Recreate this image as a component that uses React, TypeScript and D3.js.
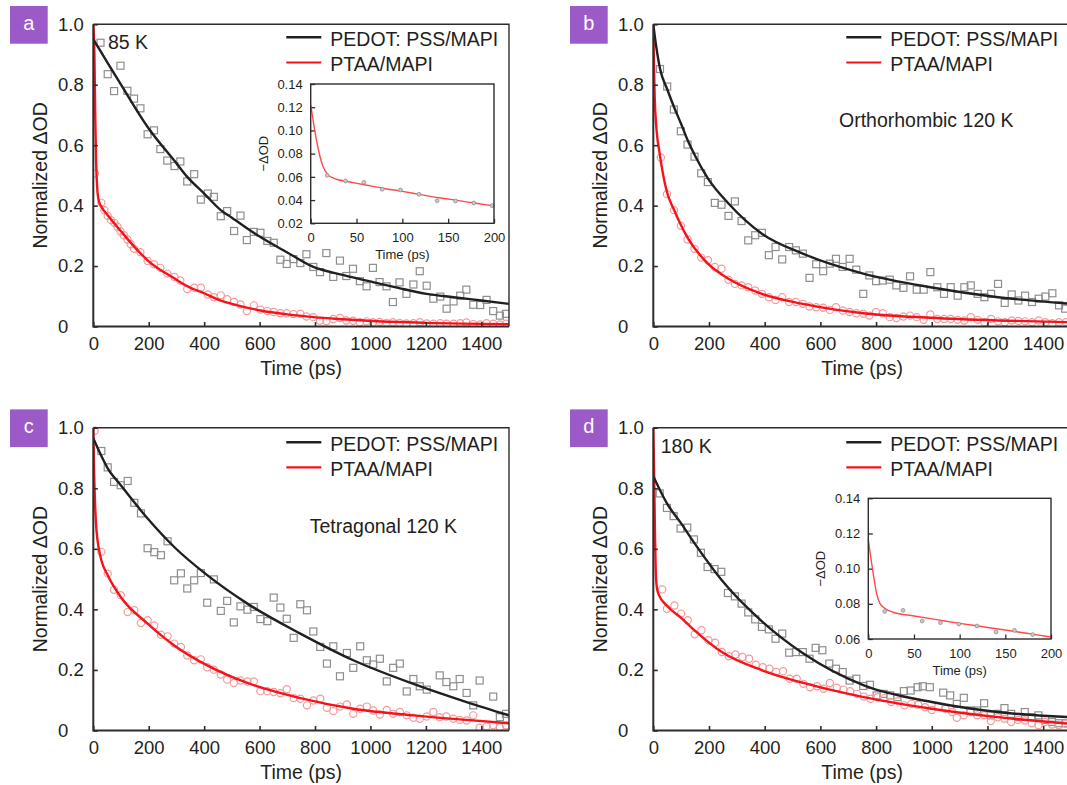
import { useEffect, useRef } from "react";
import * as d3 from "d3";

// ---- data: [time (ps), normalized ΔOD] ----
const xTicks = [0, 200, 400, 600, 800, 1000, 1200, 1400];
const yTicks = [0, 0.2, 0.4, 0.6, 0.8, 1.0];
const insetXTicks = [0, 50, 100, 150, 200];
const insetAYTicks = [0.02, 0.04, 0.06, 0.08, 0.1, 0.12, 0.14];
const insetDYTicks = [0.06, 0.08, 0.1, 0.12, 0.14];

const aPedot = [[26,0.939],[52,0.835],[75,0.779],[98,0.863],[123,0.780],[147,0.754],[170,0.722],[196,0.636],[219,0.649],[242,0.587],[267,0.549],[293,0.531],[314,0.546],[339,0.480],[364,0.504],[388,0.420],[413,0.440],[435,0.429],[460,0.365],[483,0.382],[508,0.316],[531,0.367],[554,0.286],[579,0.313],[603,0.310],[628,0.283],[651,0.277],[675,0.221],[698,0.207],[722,0.223],[747,0.210],[769,0.239],[794,0.197],[818,0.180],[841,0.243],[866,0.164],[890,0.218],[913,0.167],[937,0.191],[962,0.150],[986,0.133],[1009,0.194],[1033,0.147],[1058,0.133],[1081,0.081],[1105,0.146],[1130,0.108],[1155,0.139],[1178,0.183],[1203,0.135],[1227,0.092],[1252,0.099],[1275,0.059],[1300,0.083],[1324,0.102],[1346,0.122],[1371,0.072],[1396,0.071],[1419,0.088],[1443,0.051],[1467,0.036],[1489,0.042]];
const aPtaa = [[6,0.506],[29,0.41],[40,0.385],[52,0.366],[64,0.352],[76,0.343],[87,0.33],[98,0.315],[110,0.302],[123,0.288],[135,0.272],[147,0.257],[170,0.246],[196,0.217],[219,0.206],[242,0.194],[267,0.175],[293,0.164],[314,0.152],[339,0.124],[364,0.128],[388,0.128],[413,0.106],[435,0.097],[460,0.103],[483,0.090],[508,0.081],[531,0.073],[554,0.051],[579,0.070],[603,0.056],[628,0.051],[651,0.048],[675,0.044],[698,0.044],[722,0.041],[747,0.042],[769,0.033],[794,0.031],[818,0.019],[841,0.017],[866,0.025],[890,0.028],[913,0.020],[937,0.019],[962,0.014],[986,0.017],[1009,0.014],[1033,0.015],[1058,0.012],[1081,0.014],[1105,0.012],[1130,0.010],[1155,0.011],[1178,0.014],[1203,0.010],[1227,0.009],[1252,0.011],[1275,0.009],[1300,0.009],[1324,0.011],[1346,0.013],[1371,0.008],[1396,0.007],[1419,0.011],[1443,0.009],[1467,0.007],[1489,0.009]];
const aPedotFit = [[0,0.95],[50,0.875],[100,0.80],[196,0.66],[300,0.54],[339,0.495],[400,0.44],[460,0.385],[500,0.36],[603,0.296],[700,0.245],[794,0.197],[900,0.171],[1009,0.147],[1100,0.128],[1203,0.108],[1300,0.097],[1400,0.086],[1500,0.075]];
const aPtaaFit = [[0,1.0],[4,0.9],[7,0.7],[10,0.55],[14,0.46],[20,0.415],[30,0.395],[52,0.368],[100,0.315],[150,0.262],[196,0.219],[300,0.155],[339,0.133],[400,0.11],[460,0.086],[500,0.075],[603,0.053],[700,0.04],[794,0.031],[900,0.024],[1009,0.018],[1200,0.012],[1500,0.008]];

const bPedot = [[24,0.852],[50,0.794],[74,0.718],[99,0.646],[123,0.602],[148,0.562],[172,0.507],[196,0.478],[221,0.409],[245,0.403],[270,0.366],[293,0.414],[317,0.349],[341,0.285],[366,0.302],[390,0.310],[415,0.236],[439,0.263],[463,0.222],[488,0.263],[512,0.252],[537,0.241],[561,0.161],[585,0.206],[610,0.183],[634,0.208],[656,0.224],[680,0.197],[705,0.224],[729,0.188],[754,0.108],[776,0.169],[800,0.150],[824,0.152],[849,0.155],[873,0.136],[898,0.128],[922,0.166],[946,0.122],[971,0.122],[995,0.180],[1020,0.130],[1044,0.108],[1068,0.130],[1093,0.102],[1117,0.130],[1140,0.136],[1165,0.108],[1189,0.097],[1213,0.108],[1238,0.141],[1262,0.078],[1287,0.106],[1311,0.086],[1335,0.102],[1360,0.081],[1384,0.092],[1408,0.099],[1433,0.110],[1457,0.070],[1479,0.059],[1500,0.081]];
const bPtaa = [[27,0.559],[49,0.438],[74,0.385],[99,0.333],[123,0.288],[148,0.257],[172,0.228],[196,0.219],[221,0.197],[245,0.191],[270,0.155],[293,0.141],[317,0.136],[341,0.130],[366,0.119],[390,0.108],[415,0.097],[439,0.088],[463,0.097],[488,0.081],[512,0.081],[537,0.075],[561,0.066],[585,0.064],[610,0.062],[634,0.055],[656,0.064],[680,0.053],[705,0.048],[729,0.044],[754,0.042],[776,0.036],[800,0.048],[824,0.044],[849,0.031],[873,0.028],[898,0.033],[922,0.036],[946,0.031],[971,0.022],[995,0.040],[1020,0.025],[1044,0.025],[1068,0.025],[1093,0.022],[1117,0.020],[1140,0.031],[1165,0.022],[1189,0.014],[1213,0.025],[1238,0.017],[1262,0.014],[1287,0.020],[1311,0.018],[1335,0.017],[1360,0.014],[1384,0.020],[1408,0.014],[1433,0.011],[1457,0.014],[1482,0.014]];
const bPedotFit = [[0,1.0],[10,0.93],[24,0.854],[50,0.785],[74,0.727],[100,0.67],[123,0.617],[150,0.565],[196,0.49],[270,0.407],[390,0.307],[537,0.241],[754,0.175],[995,0.13],[1238,0.097],[1500,0.075]];
const bPtaaFit = [[0,1.0],[2,0.88],[5,0.76],[10,0.67],[15,0.62],[20,0.59],[30,0.53],[49,0.445],[74,0.387],[123,0.294],[196,0.208],[270,0.158],[390,0.108],[537,0.075],[754,0.044],[995,0.029],[1238,0.02],[1500,0.014]];

const cPedot = [[29,0.923],[52,0.869],[75,0.821],[99,0.810],[124,0.824],[148,0.752],[172,0.717],[196,0.602],[220,0.589],[244,0.579],[268,0.625],[292,0.496],[316,0.519],[339,0.469],[364,0.496],[388,0.520],[411,0.422],[435,0.499],[460,0.395],[483,0.428],[507,0.357],[531,0.410],[556,0.399],[579,0.408],[603,0.368],[628,0.361],[651,0.439],[675,0.406],[698,0.369],[723,0.306],[747,0.417],[771,0.397],[794,0.327],[819,0.276],[843,0.221],[866,0.278],[890,0.179],[915,0.256],[938,0.207],[963,0.278],[987,0.232],[1010,0.218],[1034,0.237],[1059,0.162],[1082,0.207],[1106,0.221],[1131,0.129],[1155,0.170],[1178,0.146],[1203,0.135],[1250,0.182],[1274,0.160],[1299,0.146],[1322,0.170],[1347,0.124],[1371,0.083],[1394,0.165],[1443,0.112],[1467,0.044],[1489,0.055]];
const cPtaa = [[5,0.99],[29,0.590],[52,0.518],[75,0.465],[99,0.447],[124,0.391],[148,0.397],[172,0.355],[196,0.364],[220,0.347],[244,0.316],[268,0.311],[292,0.287],[316,0.276],[339,0.248],[364,0.232],[388,0.235],[411,0.209],[435,0.201],[460,0.185],[483,0.168],[507,0.157],[531,0.165],[556,0.162],[579,0.162],[603,0.130],[628,0.130],[651,0.127],[675,0.123],[698,0.136],[723,0.107],[747,0.105],[771,0.083],[794,0.099],[819,0.105],[843,0.075],[866,0.064],[890,0.079],[915,0.086],[938,0.055],[963,0.072],[987,0.079],[1010,0.066],[1034,0.053],[1059,0.068],[1082,0.055],[1106,0.061],[1131,0.050],[1155,0.042],[1178,0.039],[1203,0.046],[1227,0.061],[1250,0.044],[1274,0.046],[1299,0.039],[1322,0.035],[1347,0.033],[1371,0.050],[1394,0.009],[1419,0.013],[1443,0.017],[1467,0.011],[1489,0.017]];
const cPedotFit = [[0,0.965],[52,0.866],[99,0.81],[196,0.70],[292,0.606],[411,0.513],[556,0.419],[747,0.32],[938,0.232],[1155,0.154],[1347,0.094],[1500,0.05]];
const cPtaaFit = [[0,1.0],[3,0.85],[6,0.76],[10,0.68],[15,0.63],[20,0.60],[29,0.562],[52,0.513],[99,0.441],[196,0.353],[292,0.281],[411,0.215],[556,0.157],[747,0.107],[938,0.072],[1155,0.05],[1347,0.035],[1500,0.024]];

const dPedot = [[23,0.783],[49,0.735],[73,0.708],[98,0.667],[122,0.670],[146,0.631],[171,0.587],[195,0.540],[220,0.533],[244,0.524],[268,0.454],[293,0.443],[317,0.419],[341,0.390],[366,0.367],[390,0.342],[415,0.334],[439,0.303],[463,0.320],[488,0.257],[512,0.259],[537,0.259],[561,0.237],[583,0.273],[607,0.265],[632,0.221],[656,0.204],[680,0.193],[705,0.165],[729,0.171],[754,0.147],[778,0.151],[802,0.116],[827,0.121],[851,0.116],[876,0.110],[900,0.130],[924,0.132],[949,0.143],[968,0.146],[993,0.143],[1041,0.125],[1066,0.116],[1090,0.088],[1115,0.108],[1139,0.066],[1163,0.066],[1188,0.090],[1212,0.050],[1237,0.055],[1261,0.074],[1285,0.055],[1310,0.044],[1334,0.061],[1359,0.044],[1383,0.050],[1407,0.035],[1432,0.028],[1456,0.024],[1481,0.024]];
const dPtaa = [[32,0.466],[49,0.402],[76,0.413],[100,0.386],[124,0.364],[149,0.318],[173,0.331],[198,0.298],[222,0.290],[246,0.259],[271,0.245],[295,0.251],[320,0.243],[344,0.237],[368,0.217],[393,0.209],[417,0.204],[441,0.193],[466,0.196],[490,0.171],[515,0.171],[539,0.154],[563,0.143],[588,0.146],[612,0.138],[634,0.157],[659,0.141],[683,0.135],[707,0.130],[732,0.121],[756,0.112],[780,0.105],[805,0.110],[829,0.107],[854,0.094],[878,0.097],[902,0.083],[927,0.088],[951,0.085],[976,0.077],[1000,0.068],[1024,0.079],[1049,0.072],[1073,0.061],[1090,0.042],[1115,0.050],[1139,0.061],[1163,0.050],[1188,0.050],[1212,0.031],[1237,0.044],[1261,0.039],[1285,0.028],[1310,0.035],[1334,0.033],[1359,0.024],[1383,0.017],[1407,0.028],[1432,0.020],[1456,0.017],[1481,0.022]];
const dPedotFit = [[0,0.84],[49,0.75],[100,0.684],[149,0.617],[246,0.496],[393,0.358],[539,0.254],[756,0.149],[1000,0.094],[1237,0.061],[1500,0.044]];
const dPtaaFit = [[0,1.0],[3,0.85],[6,0.65],[9,0.52],[13,0.47],[20,0.448],[49,0.412],[100,0.372],[149,0.33],[246,0.259],[393,0.198],[539,0.157],[756,0.11],[1000,0.072],[1237,0.044],[1500,0.022]];

// insets: [time (ps), -ΔOD]
const aInsetPts = [[18,0.0613],[38,0.0565],[58,0.0553],[78,0.0493],[98,0.0487],[118,0.045],[138,0.0395],[158,0.0392],[178,0.0375],[198,0.0352]];
const aInsetFit = [[0,0.122],[2,0.112],[4,0.102],[6,0.093],[8,0.085],[10,0.078],[13,0.070],[16,0.065],[20,0.061],[25,0.059],[30,0.0575],[40,0.056],[60,0.053],[80,0.050],[100,0.0475],[120,0.0447],[140,0.042],[160,0.0397],[180,0.0373],[200,0.035]];
const dInsetPts = [[18,0.0757],[38,0.0763],[59,0.0702],[79,0.0693],[99,0.0685],[119,0.0674],[140,0.064],[160,0.0649],[180,0.0625]];
const dInsetFit = [[0,0.1167],[2,0.109],[4,0.102],[6,0.095],[9,0.086],[13,0.080],[18,0.0775],[27,0.0752],[50,0.0731],[75,0.071],[100,0.0689],[125,0.067],[150,0.0651],[175,0.0631],[200,0.0611]];

const FONT = "'Liberation Sans', Arial, Helvetica, sans-serif";
const INK = "#231f20";
const AXIS = "#2f2b2b";
const RED = "#f5121a";
const PURPLE = "#9b5ac8";

const panels = [
  { id: "a", left: 93.3, right: 509, top: 24.3, bottom: 326.5, pedot: aPedot, ptaa: aPtaa, pedotFit: aPedotFit, ptaaFit: aPtaaFit,
    note: "85 K", noteX: 108, noteY: 49.3, legendDy: 0,
    inset: { left: 310.7, right: 494, top: 84, bottom: 223.3, yDomain: [0.02, 0.14], yTicks: insetAYTicks, pts: aInsetPts, fit: aInsetFit } },
  { id: "b", left: 653.3, right: 1071, top: 24.3, bottom: 326.5, pedot: bPedot, ptaa: bPtaa, pedotFit: bPedotFit, ptaaFit: bPtaaFit,
    note: "Orthorhombic 120 K", noteX: 839, noteY: 126.7, legendDy: 0, inset: null },
  { id: "c", left: 93.3, right: 509, top: 427.7, bottom: 730.5, pedot: cPedot, ptaa: cPtaa, pedotFit: cPedotFit, ptaaFit: cPtaaFit,
    note: "Tetragonal 120 K", noteX: 309.7, noteY: 532.7, legendDy: 1.5, inset: null },
  { id: "d", left: 653.3, right: 1071, top: 427.7, bottom: 730.5, pedot: dPedot, ptaa: dPtaa, pedotFit: dPedotFit, ptaaFit: dPtaaFit,
    note: "180 K", noteX: 660.7, noteY: 453.3, legendDy: 1.5,
    inset: { left: 868.3, right: 1051, top: 498.3, bottom: 639, yDomain: [0.06, 0.14], yTicks: insetDYTicks, pts: dInsetPts, fit: dInsetFit } },
];

function drawInset(svg, ins) {
  const g = svg.append("g");
  const x = d3.scaleLinear().domain([0, 200]).range([ins.left, ins.right]);
  const y = d3.scaleLinear().domain(ins.yDomain).range([ins.bottom, ins.top]);

  g.append("rect")
    .attr("x", ins.left).attr("y", ins.top)
    .attr("width", ins.right - ins.left).attr("height", ins.bottom - ins.top)
    .attr("fill", "#fff");

  const xAxis = d3.axisBottom(x).tickValues(insetXTicks).tickSizeInner(-4.5).tickSizeOuter(0).tickPadding(9.5).tickFormat(d3.format("d"));
  const xg = g.append("g").attr("transform", `translate(0,${ins.bottom})`).call(xAxis);
  const yAxis = d3.axisLeft(y).tickValues(ins.yTicks).tickSizeInner(-4.5).tickSizeOuter(0).tickPadding(8).tickFormat(d3.format(".2f"));
  const yg = g.append("g").attr("transform", `translate(${ins.left},0)`).call(yAxis);
  [xg, yg].forEach((a) => {
    a.select(".domain").remove();
    a.attr("color", AXIS).attr("font-family", FONT).attr("font-size", 13);
    a.selectAll("line").attr("stroke-width", 1.3);
    a.selectAll("text").attr("fill", INK);
  });

  g.append("path")
    .datum(ins.fit)
    .attr("fill", "none")
    .attr("stroke", "#ff4a4a")
    .attr("stroke-width", 1.4)
    .attr("d", d3.line().x((d) => x(d[0])).y((d) => y(d[1])).curve(d3.curveMonotoneX));

  g.selectAll(".idot")
    .data(ins.pts)
    .join("circle")
    .attr("cx", (d) => x(d[0]))
    .attr("cy", (d) => y(d[1]))
    .attr("r", 1.9)
    .attr("fill", "#c9c9c9")
    .attr("stroke", "#8f8f8f")
    .attr("stroke-width", 0.8);

  g.append("rect")
    .attr("x", ins.left).attr("y", ins.top)
    .attr("width", ins.right - ins.left).attr("height", ins.bottom - ins.top)
    .attr("fill", "none").attr("stroke", AXIS).attr("stroke-width", 1.4);

  g.append("text")
    .attr("x", (ins.left + ins.right) / 2).attr("y", ins.bottom + 35.5)
    .attr("text-anchor", "middle").attr("font-size", 13).text("Time (ps)");
  g.append("text")
    .attr("transform", `translate(${ins.left - 43},${(ins.top + ins.bottom) / 2}) rotate(-90)`)
    .attr("text-anchor", "middle").attr("font-size", 13).text("\u2212\u0394OD");
}

function drawPanel(svg, p) {
  const g = svg.append("g");
  const x = d3.scaleLinear().domain([0, 1500]).range([p.left, p.right]);
  const y = d3.scaleLinear().domain([0, 1]).range([p.bottom, p.top]);

  const clipId = "clip-" + p.id;
  svg.select("defs").append("clipPath").attr("id", clipId)
    .append("rect")
    .attr("x", p.left).attr("y", p.top - 2)
    .attr("width", p.right - p.left).attr("height", p.bottom - p.top + 2);

  const plot = g.append("g").attr("clip-path", `url(#${clipId})`);

  // markers
  plot.selectAll(".sq")
    .data(p.pedot)
    .join("rect")
    .attr("x", (d) => x(d[0]) - 3.5)
    .attr("y", (d) => y(d[1]) - 3.5)
    .attr("width", 7).attr("height", 7)
    .attr("fill", "none").attr("stroke", "#8e8e8e").attr("stroke-width", 1.2);

  plot.selectAll(".ci")
    .data(p.ptaa)
    .join("circle")
    .attr("cx", (d) => x(d[0]))
    .attr("cy", (d) => y(d[1]))
    .attr("r", 3.6)
    .attr("fill", "none").attr("stroke", "#f49a9a").attr("stroke-width", 1.2);

  // fits
  const fitLine = d3.line().x((d) => x(d[0])).y((d) => y(d[1])).curve(d3.curveMonotoneX);
  plot.append("path").datum(p.ptaaFit)
    .attr("fill", "none").attr("stroke", RED).attr("stroke-width", 2.4).attr("d", fitLine);
  plot.append("path").datum(p.pedotFit)
    .attr("fill", "none").attr("stroke", INK).attr("stroke-width", 2.4).attr("d", fitLine);

  // axes
  const xAxis = d3.axisBottom(x).tickValues(xTicks).tickSizeInner(-4.5).tickSizeOuter(0).tickPadding(10.4).tickFormat(d3.format("d"));
  const xg = g.append("g").attr("transform", `translate(0,${p.bottom})`).call(xAxis);
  const yAxis = d3.axisLeft(y).tickValues(yTicks).tickSizeInner(-4.5).tickSizeOuter(0)
    .tickFormat((d) => (d === 0 ? "0" : d3.format(".1f")(d)));
  const yg = g.append("g").attr("transform", `translate(${p.left},0)`).call(yAxis);
  [xg, yg].forEach((a) => {
    a.select(".domain").remove();
    a.attr("color", AXIS).attr("font-family", FONT).attr("font-size", 18.5);
    a.selectAll("line").attr("stroke-width", 1.6);
    a.selectAll("text").attr("fill", INK);
  });
  yg.selectAll("text").attr("text-anchor", "start").attr("x", -35.3);

  // frame
  g.append("path")
    .attr("d", `M${p.left},${p.top}H${p.right}V${p.bottom}`)
    .attr("fill", "none").attr("stroke", AXIS).attr("stroke-width", 1.4);
  g.append("path")
    .attr("d", `M${p.left},${p.top}V${p.bottom}H${p.right}`)
    .attr("fill", "none").attr("stroke", AXIS).attr("stroke-width", 2);

  // axis titles
  g.append("text")
    .attr("x", (p.left + p.right) / 2).attr("y", p.bottom + 48.5)
    .attr("text-anchor", "middle").attr("font-size", 19.5).text("Time (ps)");
  g.append("text")
    .attr("transform", `translate(${p.left - 46.8},${(p.top + p.bottom) / 2}) rotate(-90)`)
    .attr("text-anchor", "middle").attr("font-size", 19.5).text("Normalized \u0394OD");

  // legend
  const lx = p.left + 193;
  const ly = p.top + 13 + p.legendDy;
  g.append("line").attr("x1", lx).attr("x2", lx + 35).attr("y1", ly).attr("y2", ly)
    .attr("stroke", INK).attr("stroke-width", 2.6);
  g.append("text").attr("x", lx + 44).attr("y", ly + 8.5).attr("font-size", 19.5).text("PEDOT: PSS/MAPI");
  g.append("line").attr("x1", lx).attr("x2", lx + 35).attr("y1", ly + 25.2).attr("y2", ly + 25.2)
    .attr("stroke", RED).attr("stroke-width", 2.2);
  g.append("text").attr("x", lx + 44).attr("y", ly + 33.5).attr("font-size", 19.5).text("PTAA/MAPI");

  // annotation
  g.append("text").attr("x", p.noteX).attr("y", p.noteY).attr("font-size", 19.5).text(p.note);

  // panel letter
  const bx = p.left - 83.3;
  const by = p.top - 18.3;
  g.append("rect").attr("x", bx).attr("y", by).attr("width", 37.7).attr("height", 37.7).attr("fill", PURPLE);
  g.append("text").attr("x", bx + 18.85).attr("y", by + 23.5)
    .attr("text-anchor", "middle").attr("font-size", 20).attr("fill", "#fff").text(p.id);

  if (p.inset) drawInset(svg, p.inset);
}

export default function App() {
  const svgRef = useRef(null);

  useEffect(() => {
    const svg = d3.select(svgRef.current);
    svg.selectAll("*").remove();
    svg.append("defs");
    panels.forEach((p) => drawPanel(svg, p));
  }, []);

  return (
    <svg
      ref={svgRef}
      width={1067}
      height={785}
      style={{ position: "absolute", left: 0, top: 0, background: "#fff" }}
      fontFamily={FONT}
      fill={INK}
    />
  );
}
